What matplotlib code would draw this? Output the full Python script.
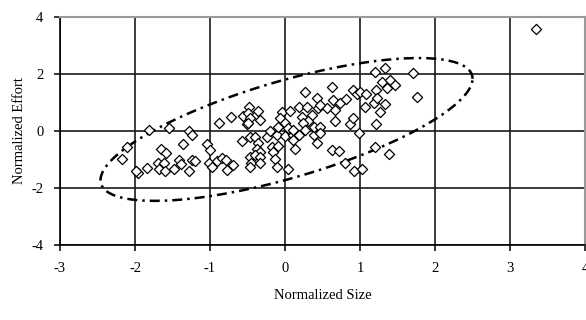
import numpy as np
import matplotlib
matplotlib.use("Agg")
import matplotlib.pyplot as plt

# Observed data points (Normalized Size, Normalized Effort)
size = [
    -1.81, -1.55, -1.28, -1.24, -1.36, -2.11, -2.18, -1.65, -1.59, -1.69,
    -1.61, -1.68, -1.60, -1.48, -1.41, -1.39, -1.28, -1.24, -1.20, -1.84,
    -1.96, -1.99, -1.04, -1.00, -1.02, -0.97,
    -0.57, -0.91, -0.84, -0.79, -0.78, -0.69,
    -0.47, -0.40, -0.24, -0.11, 0.00, 0.11, -0.36, -0.38, -0.33, -0.47,
    -0.40, -0.33, -0.46, -0.33, -0.47, -0.18, -0.09, -0.16, -0.13, -0.11,
    0.11, 0.13, 0.04, 0.38, 0.42,
    -0.56, -0.51, -0.72, -0.88,
    -0.48, -0.36, -0.49, -0.47, -0.33, -0.49, -0.04, 0.07, -0.07, 0.00,
    -0.09, 0.04, -0.20, 0.18, 0.29, 0.42, 0.26, 0.44, 0.56, 0.67,
    0.64, 0.22, 0.36, 0.31, 0.24, 0.38, 0.27, 0.47, 0.67, 0.11, 0.18,
    1.20, 1.33, 1.70, 1.76, 0.62, 0.47, 0.73, 0.81, 0.87, 0.90,
    0.91, 0.96, 1.00, 1.08, 1.06, 1.18, 1.21, 1.26, 1.33, 1.22,
    1.29, 1.36, 1.40, 1.46, 1.21, 0.98, 0.47,
    0.62, 0.72, 0.80, 0.92, 1.02, 1.20, 1.39,
    3.35,
]
effort = [
    0.03, 0.09, 0.01, -0.14, -0.47, -0.55, -0.99, -0.64, -0.76, -1.11,
    -1.13, -1.34, -1.40, -1.34, -1.01, -1.15, -1.39, -1.01, -1.07, -1.30,
    -1.46, -1.42, -0.47, -0.66, -1.13, -1.25,
    -0.37, -1.07, -0.96, -1.01, -1.36, -1.19,
    -0.23, -0.20, -0.20, -0.15, -0.18, -0.15, -0.44, -0.62, -0.73, -0.90,
    -0.84, -0.90, -1.14, -1.14, -1.26, -0.56, -0.52, -0.73, -0.97, -1.26,
    -0.33, -0.62, -1.34, -0.15, -0.44,
    0.52, 0.24, 0.47, 0.27,
    0.85, 0.70, 0.62, 0.44, 0.38, 0.27, 0.65, 0.68, 0.44, 0.27,
    0.15, 0.09, -0.02, 0.85, 0.85, 1.14, 1.35, 0.79, 0.79, 0.73,
    1.08, 0.50, 0.56, 0.33, 0.27, 0.15, 0.03, 0.15, 0.33, 0.03, -0.14,
    2.07, 2.19, 2.02, 1.20, 1.53, 0.91, 0.97, 1.11, 0.23, 0.44,
    1.43, 1.28, 1.37, 1.29, 0.85, 0.99, 1.43, 0.67, 0.93, 1.14,
    1.72, 1.49, 1.78, 1.61, 0.23, -0.08, -0.08,
    -0.66, -0.72, -1.13, -1.40, -1.33, -0.55, -0.80,
    3.56,
]

# Confidence ellipse parameters (covariance-like matrix and centre)
ell_center = (0.02, 0.05)
ell_cov = [[6.15, 4.4], [4.4, 6.25]]

x_ticks = [-3, -2, -1, 0, 1, 2, 3, 4]
y_ticks = [-4, -2, 0, 2, 4]

plt.rcParams['font.family'] = ['Liberation Serif', 'DejaVu Serif']
plt.rcParams['axes.unicode_minus'] = False

fig = plt.figure(figsize=(5.86, 3.2), dpi=100)
ax = fig.add_axes([0.1024, 0.234, 0.896, 0.714])

ax.set_xlim(-3, 4)
ax.set_ylim(-4, 4)
ax.set_xticks(x_ticks)
ax.set_yticks(y_ticks)
ax.grid(True, color='#1a1a1a', linewidth=1.2)
ax.set_axisbelow(True)

# ellipse
L = np.linalg.cholesky(np.array(ell_cov))
t = np.linspace(0, 2 * np.pi, 400)
pts = L @ np.vstack([np.cos(t), np.sin(t)])
ax.plot(pts[0] + ell_center[0], pts[1] + ell_center[1], color='black',
        linewidth=1.8, linestyle=(0, (4, 2, 1, 2)), zorder=3)

ax.scatter(size, effort, marker='D', s=27, facecolors='white',
           edgecolors='black', linewidths=0.9, zorder=4)

for side in ['top', 'right']:
    ax.spines[side].set_color('#999999')
    ax.spines[side].set_linewidth(1.5)
for side in ['left', 'bottom']:
    ax.spines[side].set_color('black')
    ax.spines[side].set_linewidth(1.2)

ax.tick_params(direction='out', length=4, width=1.1, labelsize=10.5,
               color='black', pad=8)
ax.set_xlabel('Normalized Size', fontsize=10.5, labelpad=10)
ax.set_ylabel('Normalized Effort', fontsize=10.5, labelpad=4)

fig.savefig('out.png', dpi=100)
